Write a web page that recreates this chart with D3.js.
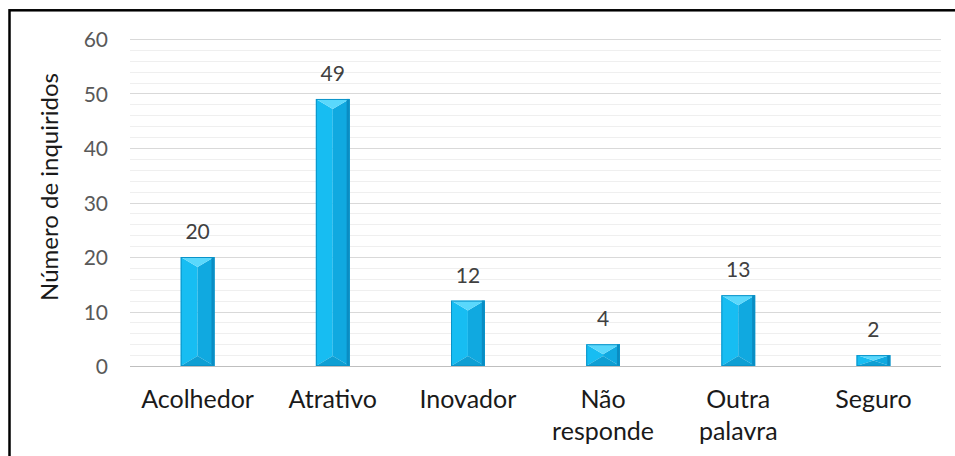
<!DOCTYPE html>
<html>
<head>
<meta charset="utf-8">
<script src="https://cdn.jsdelivr.net/npm/d3@7"></script>
<style>
  html, body { margin: 0; padding: 0; background: #fff; }
  svg { display: block; }
  text { font-family: Lato, "Open Sans", sans-serif; }
</style>
</head>
<body>
<script>
// Responses: word chosen to describe the place
const categories = ["Acolhedor", "Atrativo", "Inovador", "Não responde", "Outra palavra", "Seguro"];
const categoryLines = [["Acolhedor"], ["Atrativo"], ["Inovador"], ["Não", "responde"], ["Outra", "palavra"], ["Seguro"]];
const counts = [20, 49, 12, 4, 13, 2];
const yTicks = [0, 10, 20, 30, 40, 50, 60];
const yMinorTicks = d3.range(2, 60, 2).filter(v => v % 10 !== 0);
const yTitle = "Número de inquiridos";

const W = 955, H = 456;
const plot = { left: 130, right: 941, top: 39, bottom: 366 };

const svg = d3.select("body").append("svg").attr("width", W).attr("height", H);

const x = d3.scaleBand()
  .domain(categories)
  .range([plot.left, plot.right])
  .paddingInner(0.75)
  .paddingOuter(0.375);

const y = d3.scaleLinear().domain([0, 60]).range([plot.bottom, plot.top]);

// minor gridlines
svg.append("g").selectAll("line").data(yMinorTicks).join("line")
  .attr("x1", plot.left).attr("x2", plot.right)
  .attr("y1", d => Math.round(y(d)) + 0.5).attr("y2", d => Math.round(y(d)) + 0.5)
  .attr("stroke", "#efefef").attr("stroke-width", 1);

// major gridlines
svg.append("g").selectAll("line").data(yTicks.filter(d => d > 0)).join("line")
  .attr("x1", plot.left).attr("x2", plot.right)
  .attr("y1", d => Math.round(y(d)) + 0.5).attr("y2", d => Math.round(y(d)) + 0.5)
  .attr("stroke", "#d9d9d9").attr("stroke-width", 1);

// y axis labels
const yAxis = d3.axisLeft(y).tickValues(yTicks).tickSize(0).tickPadding(0);
const gy = svg.append("g").attr("transform", `translate(${108},0)`).call(yAxis);
gy.select(".domain").remove();
gy.selectAll("text")
  .attr("fill", "#595959")
  .attr("dy", "0.36em")
  .style("font-size", "21px")
  .style("font-family", "Lato, 'Open Sans', sans-serif");

// y axis title
svg.append("text")
  .attr("transform", `translate(58,${187}) rotate(-90)`)
  .attr("text-anchor", "middle")
  .attr("fill", "#1a1a1a")
  .style("font-size", "24px")
  .text(yTitle);

// bevelled bars
const bars = svg.append("g");
categories.forEach((c, i) => {
  const x0 = x(c), x1 = x(c) + x.bandwidth(), xm = (x0 + x1) / 2;
  const y0 = y(counts[i]), y1 = y(0);
  const b = Math.min(10, (y1 - y0) / 2);
  const g = bars.append("g");
  const poly = (pts, fill) => g.append("polygon")
    .attr("points", pts.map(p => p.join(",")).join(" "))
    .attr("fill", fill);
  // left face
  poly([[x0, y0], [xm, y0 + b], [xm, y1 - b], [x0, y1]], "#17bdf2");
  // right face
  poly([[x1, y0], [xm, y0 + b], [xm, y1 - b], [x1, y1]], "#10a9e0");
  // bottom bevel
  poly([[x0, y1], [xm, y1 - b], [x1, y1]], "#0f9fd3");
  // top bevel
  poly([[x0, y0], [x1, y0], [xm, y0 + b]], "#5ad8fc");
  // right edge shade
  g.append("rect").attr("x", x1 - 3).attr("y", y0).attr("width", 3).attr("height", y1 - y0)
    .attr("fill", "#0b8cc2");
  // outline
  g.append("rect").attr("x", x0 + 0.5).attr("y", y0 + 0.5)
    .attr("width", x1 - x0 - 1).attr("height", y1 - y0 - 1)
    .attr("fill", "none").attr("stroke", "#0a93c9").attr("stroke-width", 1);
});

// baseline
svg.append("line")
  .attr("x1", plot.left).attr("x2", plot.right)
  .attr("y1", Math.round(y(0)) + 0.5).attr("y2", Math.round(y(0)) + 0.5)
  .attr("stroke", "#bfbfbf").attr("stroke-width", 1);

// value labels
svg.append("g").selectAll("text").data(categories).join("text")
  .attr("x", d => x(d) + x.bandwidth() / 2)
  .attr("y", (d, i) => y(counts[i]) - 18)
  .attr("text-anchor", "middle")
  .attr("fill", "#404040")
  .style("font-size", "21px")
  .text((d, i) => counts[i]);

// category labels
const cat = svg.append("g").selectAll("text").data(categories).join("text")
  .attr("x", d => x(d) + x.bandwidth() / 2)
  .attr("y", 408)
  .attr("text-anchor", "middle")
  .attr("fill", "#1a1a1a")
  .style("font-size", "25px");
cat.each(function (d, i) {
  d3.select(this).selectAll("tspan").data(categoryLines[i]).join("tspan")
    .attr("x", x(d) + x.bandwidth() / 2)
    .attr("dy", (t, j) => j === 0 ? 0 : 32)
    .text(t => t);
});

// frame
svg.append("rect")
  .attr("x", 9.5).attr("y", 10.3)
  .attr("width", 1200).attr("height", 1200)
  .attr("fill", "none").attr("stroke", "#000").attr("stroke-width", 2.5);
</script>
</body>
</html>
